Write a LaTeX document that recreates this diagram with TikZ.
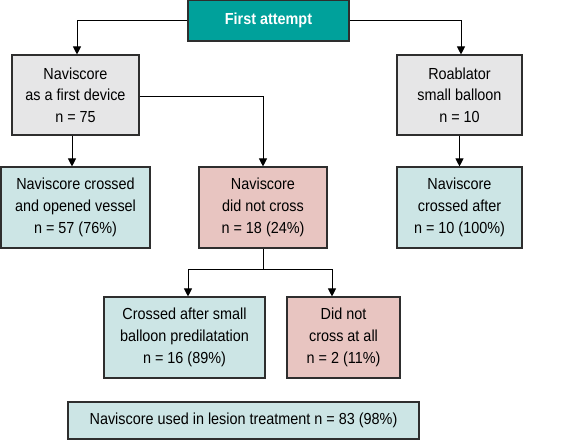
\documentclass[tikz,border=0pt]{standalone}
\usepackage{fontspec}
\setmainfont[FakeStretch=0.9]{Liberation Sans}
\usetikzlibrary{arrows.meta}
\definecolor{tealhead}{HTML}{00A19B}
\definecolor{greybox}{HTML}{E6E6E7}
\definecolor{bluebox}{HTML}{CCE5E5}
\definecolor{pinkbox}{HTML}{E8C5C1}
\definecolor{edgegrey}{HTML}{2E2E2E}

\begin{document}
\begin{tikzpicture}[x=1pt,y=1pt,
    box/.style={draw=edgegrey,line width=1.1pt,align=center,inner sep=0pt,
      font=\fontsize{16}{21.7}\selectfont},
    link/.style={line width=0.9pt,-{Triangle[width=8pt,length=8pt]}}]
    \useasboundingbox (0,0) rectangle (576,440);
    \node[box,fill=tealhead,text=white,font=\fontsize{16}{17}\selectfont\bfseries,
      minimum width=161pt,minimum height=41pt] (first) at (268.5,419.5) {First attempt};
    \node[box,fill=greybox,minimum width=127pt,minimum height=80pt] (nav) at (75.5,345)
      {Naviscore\\as a first device\\n = 75};
    \node[box,fill=greybox,minimum width=125pt,minimum height=80pt] (roab) at (459.5,345)
      {Roablator\\small balloon\\n = 10};
    \node[box,fill=bluebox,minimum width=149pt,minimum height=81pt] (crossed) at (75.5,232.5)
      {Naviscore crossed\\and opened vessel\\n = 57 (76\%)};
    \node[box,fill=pinkbox,minimum width=128pt,minimum height=81pt] (notcross) at (263,232.5)
      {Naviscore\\did not cross\\n = 18 (24\%)};
    \node[box,fill=bluebox,minimum width=125pt,minimum height=81pt] (after) at (459.5,232.5)
      {Naviscore\\crossed after\\n = 10 (100\%)};
    \node[box,fill=bluebox,minimum width=161pt,minimum height=81pt] (small) at (184.5,102.5)
      {Crossed after small\\balloon predilatation\\n = 16 (89\%)};
    \node[box,fill=pinkbox,minimum width=113pt,minimum height=81pt] (never) at (343.5,102.5)
      {Did not\\cross at all\\n = 2 (11\%)};
    \node[box,fill=bluebox,minimum width=351pt,minimum height=37pt] (used) at (243.5,19.5)
      {Naviscore used in lesion treatment n = 83 (98\%)};
    \coordinate (split) at (263,171);
    % connectors
    \draw[link] (first.west) -| ([xshift=1.5pt]nav.north);
    \draw[link] (first.east) -| ([xshift=1.5pt]roab.north);
    \draw[link] ([xshift=-3.5pt]nav.south) -- ([xshift=-3.5pt]nav.south |- crossed.north);
    \draw[link] ([yshift=-1pt]nav.east) -| (notcross.north);
    \draw[link] (roab.south) -- (after.north);
    \draw[line width=0.9pt] (notcross.south) -- (split);
    \draw[link] (split) -| ([xshift=3.5pt]small.north);
    \draw[link] (split) -| ([xshift=-11.5pt]never.north);
\end{tikzpicture}
\end{document}
